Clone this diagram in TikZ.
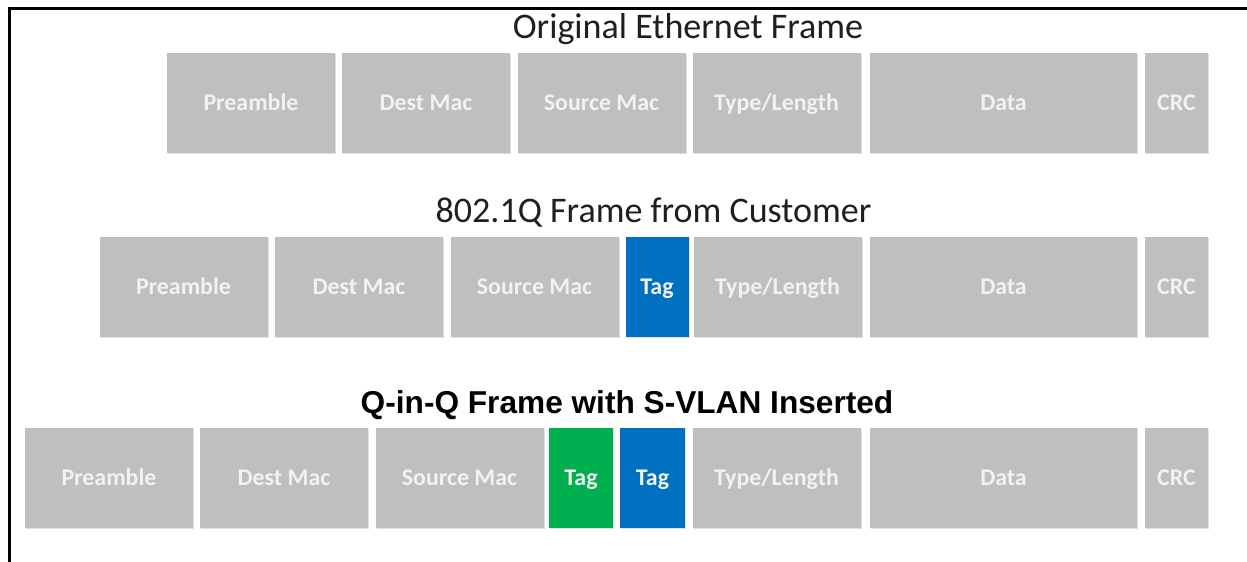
\documentclass[tikz,border=0pt]{standalone}
\usepackage{fontspec}
\setmainfont{Carlito}
\newfontfamily\arialfont{Liberation Sans}
\usetikzlibrary{shadows}
\definecolor{fieldgray}{HTML}{BFBFBF}
\definecolor{ctagblue}{HTML}{0070C0}
\definecolor{staggreen}{HTML}{00B050}
\definecolor{labelwhite}{HTML}{F2F2F2}
\begin{document}
\begin{tikzpicture}[
    field/.style={fill=fieldgray, minimum height=2cm, inner sep=0pt,
      text=labelwhite, font=\fontsize{13.6}{15}\selectfont\bfseries,
      text height=0.95em, text depth=0.15em,
      drop shadow={shadow xshift=0.6pt, shadow yshift=-0.8pt, opacity=0.25}},
    wide/.style={field, minimum width=3.36cm},
    data/.style={field, minimum width=5.34cm},
    crc/.style={field, minimum width=1.26cm},
    ctag/.style={field, fill=ctagblue, minimum width=1.26cm},
    stag/.style={field, fill=staggreen, minimum width=1.28cm},
    title/.style={font=\fontsize{20.5}{23}\selectfont, text=black!88}
  ]
      \useasboundingbox (0,0) rectangle (24.94,-11.24);
      \draw[line width=2pt] (0.19,-11.24) -- (0.19,-0.17) -- (24.94,-0.17);
      % original frame
      \draw
        (13.76,-0.58) node[title] (ttl1){Original Ethernet Frame}
        (5.02,-2.06) node[wide] (pre1){Preamble}
        (8.52,-2.06) node[wide] (dst1){Dest Mac}
        (12.03,-2.06) node[wide] (src1){Source Mac}
        (15.53,-2.06) node[wide] (len1){Type/Length}
        (20.07,-2.06) node[data] (dat1){Data}
        (23.53,-2.06) node[crc] (crc1){CRC};
      % customer tagged frame
      \draw
        (13.07,-4.26) node[title] (ttl2){802.1Q Frame from Customer}
        (3.67,-5.74) node[wide] (pre2){Preamble}
        (7.18,-5.74) node[wide] (dst2){Dest Mac}
        (10.69,-5.74) node[wide] (src2){Source Mac}
        (13.14,-5.74) node[ctag] (tag2){Tag}
        (15.55,-5.74) node[wide] (len2){Type/Length}
        (20.07,-5.74) node[data] (dat2){Data}
        (23.53,-5.74) node[crc] (crc2){CRC};
      % double tagged frame
      \draw
        (12.54,-8.1) node[font=\arialfont\fontsize{18}{20}\selectfont\bfseries] (ttl3){Q-in-Q Frame with S-VLAN Inserted}
        (2.18,-9.56) node[wide] (pre3){Preamble}
        (5.68,-9.56) node[wide] (dst3){Dest Mac}
        (9.19,-9.56) node[wide] (src3){Source Mac}
        (11.62,-9.56) node[stag] (stag3){Tag}
        (13.05,-9.56) node[ctag, minimum width=1.30cm] (ctag3){Tag}
        (15.53,-9.56) node[wide] (len3){Type/Length}
        (20.07,-9.56) node[data] (dat3){Data}
        (23.53,-9.56) node[crc] (crc3){CRC};
    \end{tikzpicture}
\end{document}
